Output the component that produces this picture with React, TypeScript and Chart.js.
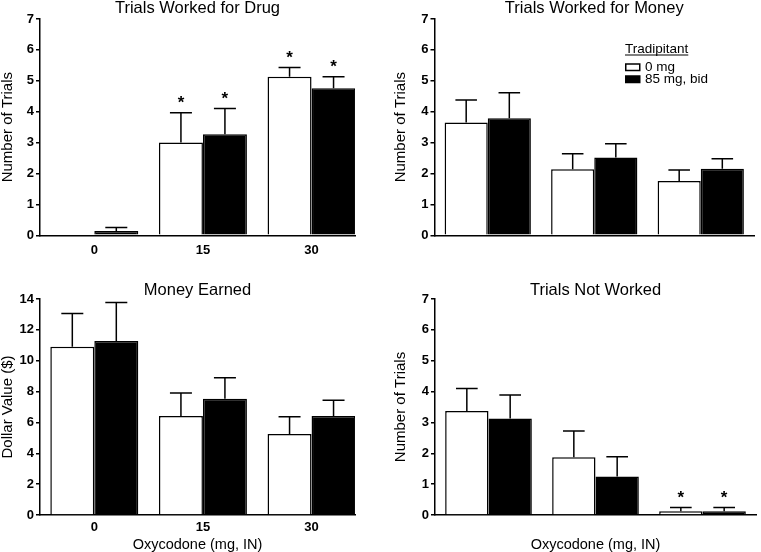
import React, { useEffect, useRef } from 'react';
import { Chart, registerables } from 'chart.js';

Chart.register(...registerables);

const FONT = "'Liberation Sans', Arial, Helvetica, sans-serif";
Chart.defaults.font.family = FONT;
Chart.defaults.color = '#000';

// ---- categories / labels ----
const doses = ['0', '15', '30'];
const groupNames = ['0 mg', '85 mg, bid'];
const legendTitle = 'Tradipitant';
const xAxisTitle = 'Oxycodone (mg, IN)';

// ---- Trials Worked for Drug ----
const drugMean0 = [0, 3.0, 5.13];
const drugErr0 = [0, 0.97, 0.3];
const drugMean85 = [0.14, 3.27, 4.76];
const drugErr85 = [0.11, 0.83, 0.37];
const drugSig0 = [false, true, true];
const drugSig85 = [false, true, true];

// ---- Trials Worked for Money ----
const moneyMean0 = [3.65, 2.14, 1.76];
const moneyErr0 = [0.73, 0.5, 0.35];
const moneyMean85 = [3.79, 2.52, 2.15];
const moneyErr85 = [0.82, 0.44, 0.33];
const moneySig0 = [false, false, false];
const moneySig85 = [false, false, false];

// ---- Money Earned ($) ----
const earnedMean0 = [10.9, 6.42, 5.25];
const earnedErr0 = [2.16, 1.49, 1.12];
const earnedMean85 = [11.28, 7.54, 6.42];
const earnedErr85 = [2.5, 1.36, 1.01];
const earnedSig0 = [false, false, false];
const earnedSig85 = [false, false, false];

// ---- Trials Not Worked ----
const notMean0 = [3.37, 1.87, 0.12];
const notErr0 = [0.73, 0.85, 0.12];
const notMean85 = [3.13, 1.25, 0.12];
const notErr85 = [0.76, 0.64, 0.12];
const notSig0 = [false, false, true];
const notSig85 = [false, false, true];

const errPlugin = {
  id: 'errBars',
  afterDatasetsDraw(chart: any, _args: any, o: any) {
    if (!o || !o.errs) return;
    const ctx = chart.ctx;
    const yScale = chart.scales.y;
    ctx.save();
    ctx.strokeStyle = '#000';
    ctx.fillStyle = '#000';
    ctx.lineWidth = 1.5;
    chart.data.datasets.forEach((ds: any, i: number) => {
      const meta = chart.getDatasetMeta(i);
      meta.data.forEach((bar: any, j: number) => {
        const err = o.errs[i][j];
        const val = ds.data[j].y;
        const yTop = yScale.getPixelForValue(val + err);
        if (err > 0) {
          const half = bar.width / 4;
          ctx.beginPath();
          ctx.moveTo(bar.x, bar.y);
          ctx.lineTo(bar.x, yTop);
          ctx.moveTo(bar.x - half, yTop);
          ctx.lineTo(bar.x + half, yTop);
          ctx.stroke();
        }
        if (o.sig[i][j]) {
          ctx.font = `bold 17px ${FONT}`;
          ctx.textAlign = 'center';
          ctx.textBaseline = 'alphabetic';
          ctx.fillText('*', bar.x, yTop - 4.5);
        }
      });
    });
    ctx.restore();
  },
};

const legendPlugin = {
  id: 'tradLegend',
  afterDraw(chart: any, _args: any, o: any) {
    if (!o || !o.show) return;
    const ctx = chart.ctx;
    ctx.save();
    ctx.font = `13.5px ${FONT}`;
    ctx.fillStyle = '#000';
    ctx.strokeStyle = '#000';
    ctx.textBaseline = 'middle';
    ctx.textAlign = 'left';
    ctx.fillText(o.title, o.x, o.titleY);
    const w = ctx.measureText(o.title).width;
    ctx.lineWidth = 1;
    ctx.beginPath();
    ctx.moveTo(o.x, o.titleY + 6);
    ctx.lineTo(o.x + w, o.titleY + 6);
    ctx.stroke();
    chart.data.datasets.forEach((ds: any, i: number) => {
      const cy = o.rowY[i];
      ctx.fillStyle = ds.backgroundColor;
      ctx.fillRect(o.x + 0.75, cy - 3, 14, 6.5);
      ctx.lineWidth = 1.5;
      ctx.strokeRect(o.x + 0.75, cy - 3, 14, 6.5);
      ctx.fillStyle = '#000';
      ctx.fillText(ds.label, o.x + 20, cy);
    });
    ctx.restore();
  },
};

type Spec = {
  left: number; top: number; w: number; h: number;
  padLeft: number; areaLeft: number; areaRight: number; areaTop: number; areaBottom: number;
  titleTop: number; title: string; yTitle: string; yMax: number; yStep: number; xMax: number;
  xTitle: boolean; xTickPad: number;
  mean0: number[]; err0: number[]; mean85: number[]; err85: number[]; sig0: boolean[]; sig85: boolean[];
  legend: boolean;
};

const specs: Spec[] = [
  {
    left: 0, top: 0, w: 380, h: 270, padLeft: 0, areaLeft: 40, areaRight: 355, areaTop: 19, areaBottom: 235.3,
    titleTop: 0, title: 'Trials Worked for Drug', yTitle: 'Number of Trials', yMax: 7, yStep: 1, xMax: 2.4,
    xTitle: false, xTickPad: 7,
    mean0: drugMean0, err0: drugErr0, mean85: drugMean85, err85: drugErr85, sig0: drugSig0, sig85: drugSig85, legend: false,
  },
  {
    left: 380, top: 0, w: 381, h: 270, padLeft: 13.5, areaLeft: 54.5, areaRight: 381, areaTop: 19, areaBottom: 235.3,
    titleTop: 0, title: 'Trials Worked for Money', yTitle: 'Number of Trials', yMax: 7, yStep: 1, xMax: 2.5,
    xTitle: false, xTickPad: 7,
    mean0: moneyMean0, err0: moneyErr0, mean85: moneyMean85, err85: moneyErr85, sig0: moneySig0, sig85: moneySig85, legend: true,
  },
  {
    left: 0, top: 270, w: 380, h: 282, padLeft: 0, areaLeft: 40, areaRight: 355, areaTop: 29, areaBottom: 245,
    titleTop: 11.75, title: 'Money Earned', yTitle: 'Dollar Value ($)', yMax: 14, yStep: 2, xMax: 2.4,
    xTitle: true, xTickPad: 5,
    mean0: earnedMean0, err0: earnedErr0, mean85: earnedMean85, err85: earnedErr85, sig0: earnedSig0, sig85: earnedSig85, legend: false,
  },
  {
    left: 380, top: 270, w: 381, h: 282, padLeft: 13.5, areaLeft: 55, areaRight: 381, areaTop: 29, areaBottom: 245,
    titleTop: 11.75, title: 'Trials Not Worked', yTitle: 'Number of Trials', yMax: 7, yStep: 1, xMax: 2.5,
    xTitle: true, xTickPad: 5,
    mean0: notMean0, err0: notErr0, mean85: notMean85, err85: notErr85, sig0: notSig0, sig85: notSig85, legend: false,
  },
];

function Panel({ s }: { s: Spec }) {
  const ref = useRef<HTMLCanvasElement>(null);
  useEffect(() => {
    const chart = new Chart(ref.current as HTMLCanvasElement, {
      type: 'bar',
      data: {
        datasets: [
          {
            label: groupNames[0],
            data: s.mean0.map((v, i) => ({ x: i, y: v })),
            backgroundColor: '#ffffff',
            borderColor: '#000000',
            borderWidth: 1.5,
          },
          {
            label: groupNames[1],
            data: s.mean85.map((v, i) => ({ x: i, y: v })),
            backgroundColor: '#000000',
            borderColor: '#000000',
            borderWidth: 1.5,
          },
        ],
      } as any,
      options: {
        responsive: false,
        animation: false,
        devicePixelRatio: 1,
        layout: { padding: { left: s.padLeft, right: s.w - s.areaRight, top: 0, bottom: 0 } },
        datasets: { bar: { categoryPercentage: 0.81, barPercentage: 1 } },
        plugins: {
          legend: { display: false },
          tooltip: { enabled: false },
          title: {
            display: true,
            fullSize: false,
            text: s.title,
            color: '#000',
            font: { size: 16.5, weight: 'normal', lineHeight: 1 },
            padding: { top: s.titleTop, bottom: s.areaTop - s.titleTop - 16.5 },
          },
          errBars: { errs: [s.err0, s.err85], sig: [s.sig0, s.sig85] },
          tradLegend: s.legend
            ? { show: true, title: legendTitle, x: 245, titleY: 49, rowY: [67, 79] }
            : { show: false },
        },
        scales: {
          x: {
            type: 'linear',
            min: -0.5,
            max: s.xMax,
            offset: false,
            grid: { display: true, drawOnChartArea: false, drawTicks: false, offset: false },
            border: { display: true, color: '#000', width: 1.5 },
            ticks: {
              stepSize: 1,
              includeBounds: false,
              autoSkip: false,
              maxRotation: 0,
              padding: s.xTickPad,
              color: '#000',
              font: { size: 13, weight: 'bold' },
              callback: (v: any) => (Number.isInteger(v) ? doses[v] : ''),
            },
            title: s.xTitle
              ? { display: true, text: xAxisTitle, color: '#000', font: { size: 14.5, lineHeight: 1 }, padding: 0 }
              : { display: false },
            afterFit: (sc: any) => {
              sc.height = s.h - s.areaBottom;
            },
          },
          y: {
            min: 0,
            max: s.yMax,
            grid: { display: true, drawOnChartArea: false, drawTicks: true, tickLength: 4, color: '#000', lineWidth: 1.5 },
            border: { display: true, color: '#000', width: 1.5 },
            ticks: { stepSize: s.yStep, padding: 2, color: '#000', font: { size: 13, weight: 'bold' } },
            title: { display: true, text: s.yTitle, color: '#000', font: { size: 15, lineHeight: 1 }, padding: 0 },
            afterFit: (sc: any) => {
              sc.width = s.areaLeft - s.padLeft;
            },
          },
        },
      } as any,
      plugins: [errPlugin, legendPlugin],
    });
    return () => chart.destroy();
  }, [s]);
  return (
    <canvas
      ref={ref}
      width={s.w}
      height={s.h}
      style={{ position: 'absolute', left: s.left, top: s.top, width: s.w, height: s.h, display: 'block' }}
    />
  );
}

export default function App() {
  return (
    <div style={{ position: 'absolute', left: 0, top: 0, width: 761, height: 552, background: '#fff', overflow: 'hidden' }}>
      {specs.map((s, i) => (
        <Panel key={i} s={s} />
      ))}
    </div>
  );
}
